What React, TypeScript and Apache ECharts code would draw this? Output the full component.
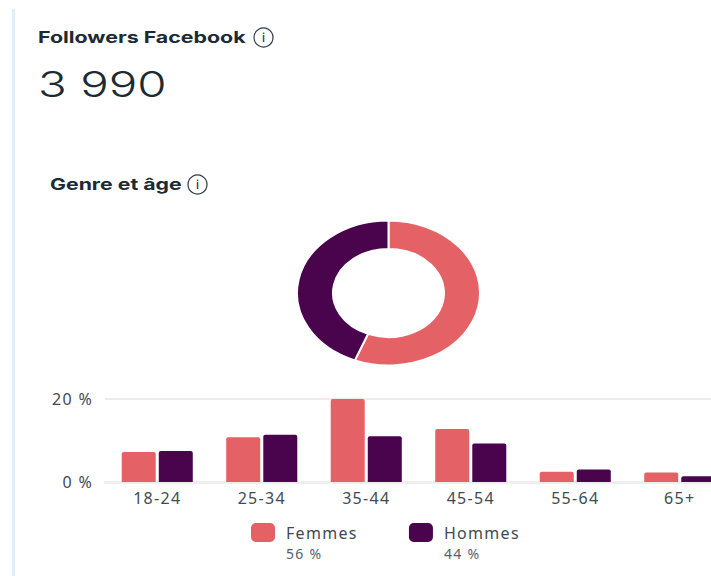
import React, { useEffect, useRef } from "react";
import * as echarts from "echarts";

const ageGroups = ["18-24", "25-34", "35-44", "45-54", "55-64", "65+"];
const femmesValues = [7.2, 10.8, 20, 12.8, 2.5, 2.3];
const hommesValues = [7.5, 11.4, 11, 9.3, 3, 1.4];
const genderNames = ["Femmes", "Hommes"];
const genderShares = [56, 44];
const genderColors = ["#e46266", "#4a044e"];
const yTicks = [0, 20];

const FONT = "'Noto Sans', sans-serif";
const TITLE_FONT = "Inter, sans-serif";
const cx = 388.5, cy = 293, rxO = 91.5, ryO = 72.5, rxI = 55.5, ryI = 44;

function ringPath(a0: number, a1: number) {
  const pt = (a: number, rx: number, ry: number) => `${cx + rx * Math.sin(a)} ${cy - ry * Math.cos(a)}`;
  const large = a1 - a0 > Math.PI ? 1 : 0;
  return `M${pt(a0, rxO, ryO)} A${rxO} ${ryO} 0 ${large} 1 ${pt(a1, rxO, ryO)} L${pt(a1, rxI, ryI)} A${rxI} ${ryI} 0 ${large} 0 ${pt(a0, rxI, ryI)} Z`;
}

function infoIcon(x: number, y: number) {
  return {
    type: "group",
    children: [
      { type: "circle", shape: { cx: x, cy: y, r: 9.5 }, style: { fill: "#fff", stroke: "#2b3a45", lineWidth: 1.2 } },
      { type: "text", style: { x, y, text: "i", font: `500 12px Inter, sans-serif`, fill: "#2b3a45", align: "center", verticalAlign: "middle" } },
    ],
  };
}

export default function App() {
  const ref = useRef<HTMLDivElement>(null);
  useEffect(() => {
    document.body.style.margin = "0";
    const chart = echarts.init(ref.current!, undefined, { renderer: "svg" });
    const total = genderShares.reduce((a, b) => a + b, 0);
    chart.setOption({
      animation: false,
      backgroundColor: "#fff",
      grid: { left: 105, top: 399, width: 627, height: 83, containLabel: false, outerBoundsMode: "none" },
      xAxis: {
        type: "category",
        data: ageGroups,
        axisLine: { lineStyle: { color: "#eeeeee", width: 3 } },
        axisTick: { show: false },
        axisLabel: { color: "#3f4a52", fontFamily: FONT, fontSize: 16, margin: 8 },
      },
      yAxis: {
        type: "value",
        min: yTicks[0],
        max: yTicks[1],
        interval: yTicks[1],
        axisLine: { show: false },
        axisTick: { show: false },
        splitLine: { lineStyle: { color: "#e6e6e6", width: 1.5 } },
        axisLabel: { color: "#3f4a52", fontFamily: FONT, fontSize: 16, margin: 12, formatter: (v: number) => `${v} %` },
      },
      legend: {
        left: 251,
        top: 523,
        padding: 0,
        data: genderNames,
        icon: "roundRect",
        itemWidth: 24,
        itemHeight: 19,
        itemGap: 59,
        selectedMode: false,
        textStyle: { color: "#3f4a52", fontFamily: FONT, fontSize: 16, padding: [0, 0, 0, 6] },
      },
      series: [
        { name: genderNames[0], type: "bar", data: femmesValues, barWidth: 34, barGap: "9%", itemStyle: { color: genderColors[0], borderRadius: [2, 2, 0, 0] } },
        { name: genderNames[1], type: "bar", data: hommesValues, barWidth: 34, barGap: "9%", itemStyle: { color: genderColors[1], borderRadius: [2, 2, 0, 0] } },
        {
          type: "custom",
          coordinateSystem: "none",
          data: genderShares,
          renderItem: (params: any, api: any) => {
            const i = params.dataIndex;
            const before = genderShares.slice(0, i).reduce((a, b) => a + b, 0);
            const a0 = (before / total) * Math.PI * 2;
            const a1 = ((before + api.value(0)) / total) * Math.PI * 2;
            return {
              type: "path",
              shape: { pathData: ringPath(a0, a1) },
              style: { fill: genderColors[i], stroke: "#fff", lineWidth: 2 },
            };
          },
        },
      ],
      graphic: [
        { type: "rect", shape: { x: 12, y: 9, width: 3, height: 567 }, style: { fill: "#deeefb" } },
        { type: "text", x: 38, y: 37, scaleX: 1.335, style: { text: "Followers Facebook", font: `700 16px ${TITLE_FONT}`, fill: "#1c2b33", verticalAlign: "middle" } },
        infoIcon(263.5, 37.5),
        { type: "text", x: 38, y: 84, scaleX: 1.32, style: { text: "3 990", font: `300 36px ${TITLE_FONT}`, fill: "#1c2b33", verticalAlign: "middle" } },
        { type: "text", x: 50, y: 184, scaleX: 1.33, style: { text: "Genre et âge", font: `700 16px ${TITLE_FONT}`, fill: "#1c2b33", verticalAlign: "middle" } },
        infoIcon(197.5, 184.5),
        { type: "text", x: 286, y: 553, style: { text: `${genderShares[0]} %`, font: `400 14px ${FONT}`, fill: "#56626b", verticalAlign: "middle" } },
        { type: "text", x: 444, y: 553, style: { text: `${genderShares[1]} %`, font: `400 14px ${FONT}`, fill: "#56626b", verticalAlign: "middle" } },
      ],
    });
    return () => chart.dispose();
  }, []);
  return (
    <>
      <style>{`text[style*="Noto"]{letter-spacing:1.3px}`}</style>
      <div ref={ref} style={{ width: 711, height: 576 }} />
    </>
  );
}
